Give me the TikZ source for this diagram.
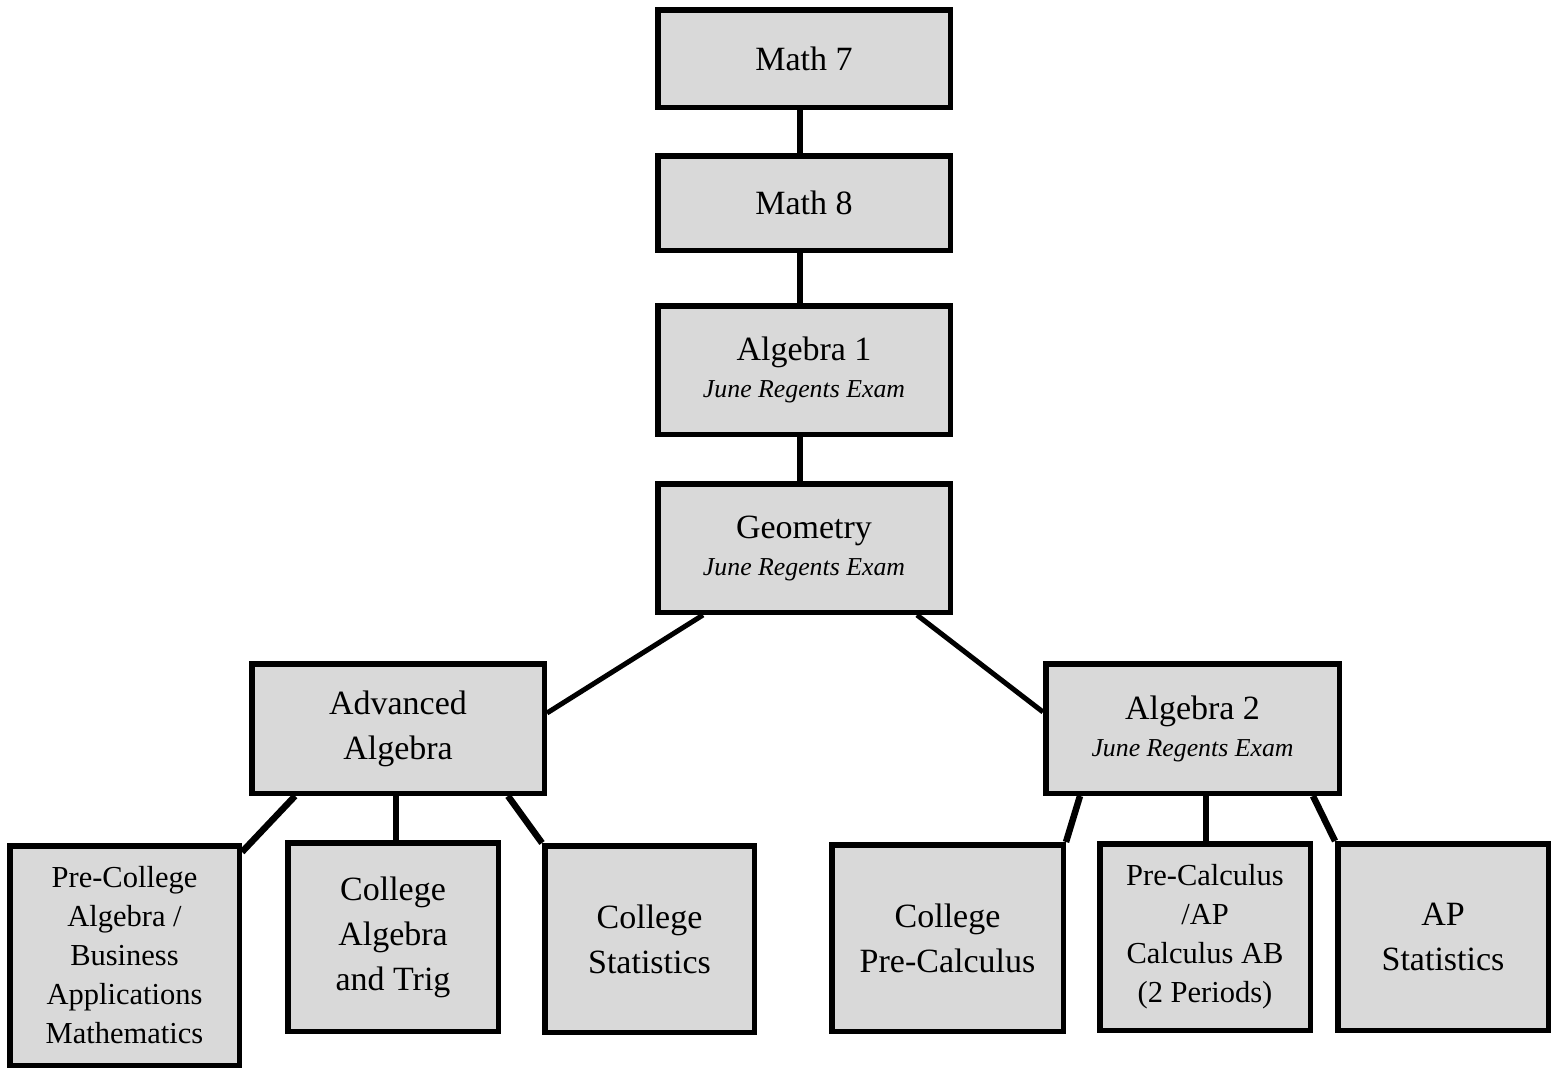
\documentclass[tikz,border=0pt]{standalone}
\usepackage{fontspec}
\setmainfont{Liberation Serif}
\definecolor{boxfill}{HTML}{D9D9D9}
\begin{document}
\begin{tikzpicture}[x=1pt,y=-1pt,
  box/.style={draw=black, line width=5.5pt, fill=boxfill, align=center, inner sep=0pt, text=black},
  big/.style={font=\fontsize{34}{45}\selectfont},
  exam/.style={font=\fontsize{34}{37}\selectfont},
  small/.style={font=\fontsize{30.5}{39}\selectfont},
  link/.style={line width=6.5pt, line cap=butt, draw=black},
  thinlink/.style={line width=5pt, line cap=butt, draw=black}]
\useasboundingbox (0,0) rectangle (1559,1068);
% top column
\node[box,big,minimum width=292.5pt,minimum height=97.5pt] (m7) at (804,58.5) {Math 7};
\node[box,big,minimum width=292.5pt,minimum height=94.5pt] (m8) at (804,203) {Math 8};
\node[box,exam,minimum width=292.5pt,minimum height=128.5pt] (a1) at (804,370) {Algebra 1\\{\fontsize{25.8}{37}\selectfont\itshape June Regents Exam}};
\node[box,exam,minimum width=292.5pt,minimum height=128.5pt] (geo) at (804,548) {Geometry\\{\fontsize{25.8}{37}\selectfont\itshape June Regents Exam}};
% middle level
\node[box,big,minimum width=292.5pt,minimum height=129.5pt] (adv) at (398,728.5) {Advanced\\Algebra};
\node[box,exam,minimum width=293.5pt,minimum height=129.5pt] (a2) at (1192.5,728.5) {Algebra 2\\{\fontsize{25.8}{37}\selectfont\itshape June Regents Exam}};
% bottom level
\node[box,small,minimum width=229.5pt,minimum height=219.5pt] (pc) at (124.5,955.5) {Pre-College\\Algebra /\\Business\\Applications\\Mathematics};
\node[box,big,minimum width=210.5pt,minimum height=188.5pt] (ca) at (393,937) {College\\Algebra\\and Trig};
\node[box,big,minimum width=209.5pt,minimum height=186.5pt] (cs) at (649.5,939) {College\\Statistics};
\node[box,big,minimum width=231.5pt,minimum height=186.5pt] (cpc) at (947.5,938) {College\\Pre-Calculus};
\node[box,small,minimum width=210.5pt,minimum height=186.5pt] (pcap) at (1205,937) {Pre-Calculus\\/AP\\Calculus AB\\(2 Periods)};
\node[box,big,minimum width=210.5pt,minimum height=186.5pt] (aps) at (1443,937) {AP\\Statistics};
% connectors
\draw[link] ([xshift=-4pt]m7.south) -- ([xshift=-4pt]m8.north);
\draw[link] ([xshift=-4pt]m8.south) -- ([xshift=-4pt]a1.north);
\draw[link] ([xshift=-4pt]a1.south) -- ([xshift=-4pt]geo.north);
\draw[thinlink] ([xshift=-101pt]geo.south) -- ([yshift=15.5pt]adv.east);
\draw[thinlink] ([xshift=113pt]geo.south) -- ([yshift=16.5pt]a2.west);
\draw[link] ([xshift=-103pt]adv.south) -- ([yshift=-9pt]pc.north east);
\draw[link] ([xshift=-2pt]adv.south) -- ([xshift=3pt]ca.north);
\draw[link] ([xshift=110pt]adv.south) -- (cs.north west);
\draw[link] ([xshift=-112.5pt]a2.south) -- (cpc.north east);
\draw[link] ([xshift=13.5pt]a2.south) -- ([xshift=1pt]pcap.north);
\draw[link] ([xshift=120.5pt]a2.south) -- (aps.north west);
\end{tikzpicture}
\end{document}
